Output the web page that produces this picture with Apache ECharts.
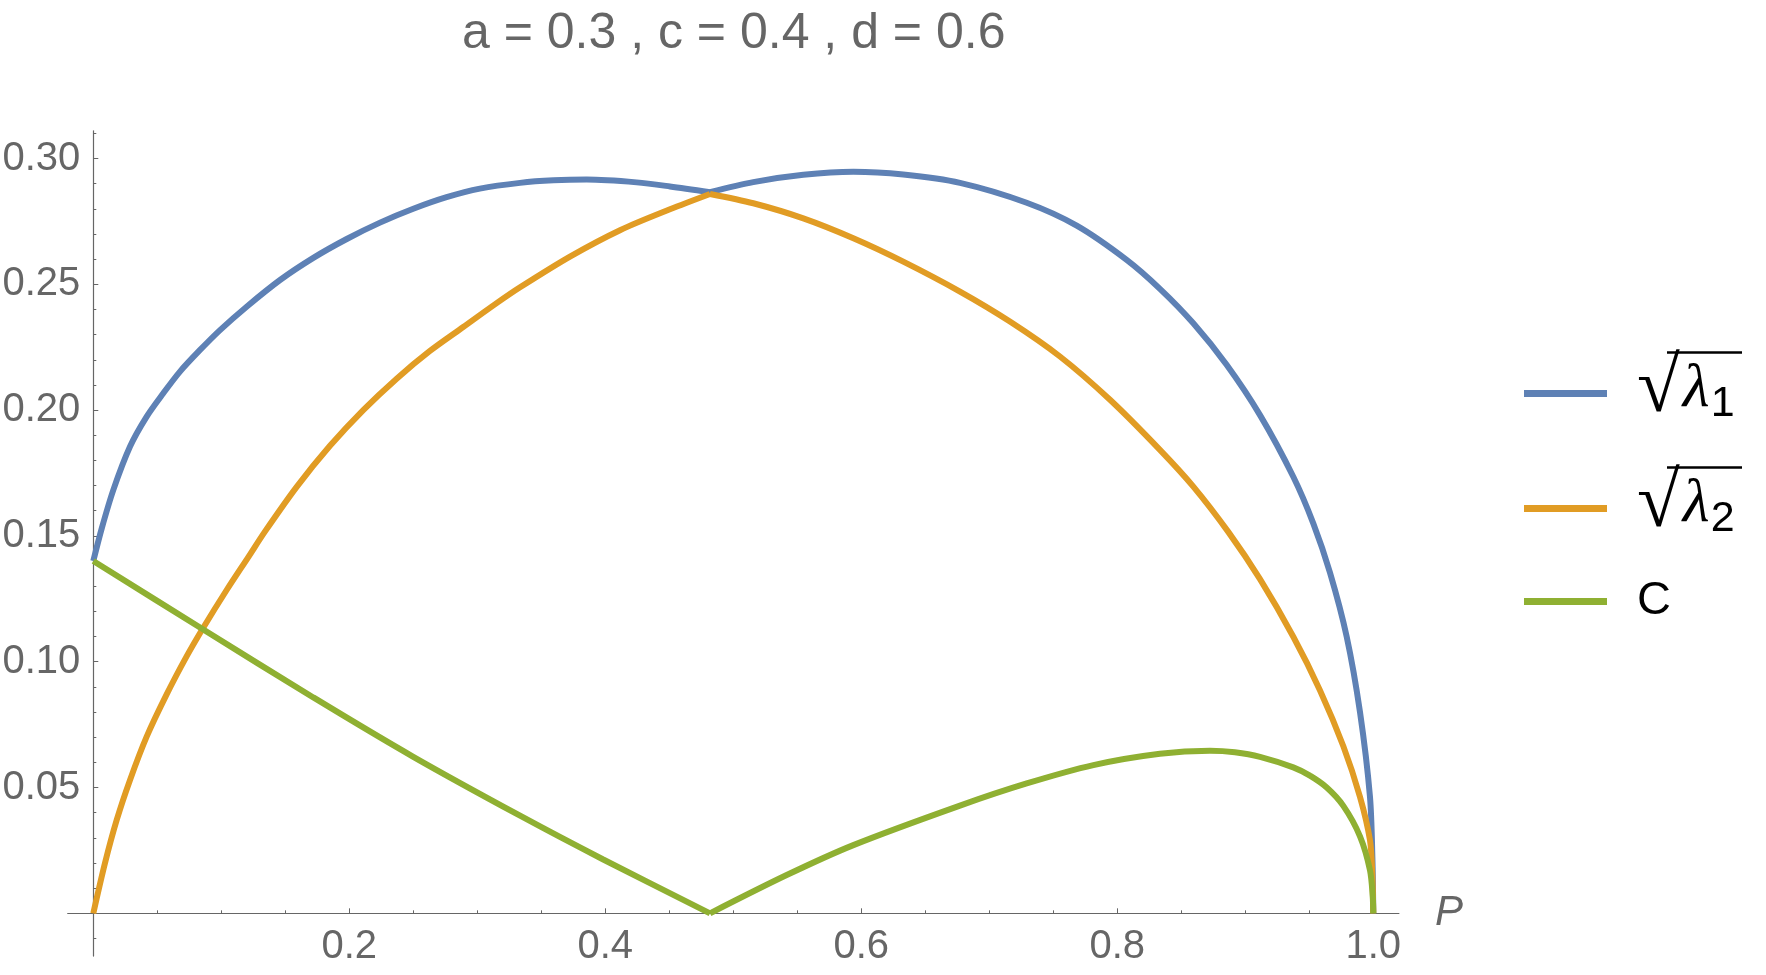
<!DOCTYPE html>
<html>
<head>
<meta charset="utf-8">
<script src="https://cdn.jsdelivr.net/npm/echarts@6/dist/echarts.min.js"></script>
<style>
  html, body { margin: 0; padding: 0; background: #fff; }
  #chart { width: 1766px; height: 975px; }
</style>
</head>
<body>
<div id="chart"></div>
<script>
// values
const titleText = 'a = 0.3 , c = 0.4 , d = 0.6';

// the curves have a corner here (drawn as two pieces so it stays sharp)
const kinkP = 0.4818;

const pL1 = [0, 0.0066, 0.0156, 0.0287, 0.0417, 0.0547, 0.0677, 0.0834, 0.099, 0.1198, 0.1459, 0.1719, 0.198, 0.224, 0.25, 0.276, 0.302, 0.3334, 0.3595, 0.3855, 0.4245, 0.4505, 0.4818,
  0.5156, 0.5547, 0.5938, 0.6328, 0.6771, 0.7292, 0.7683, 0.8073, 0.8333, 0.8594, 0.8854, 0.9115, 0.9375, 0.9531, 0.9661, 0.9792, 0.9896, 0.9974, 0.9993, 1.0];
const vL1 = [0.14, 0.153, 0.1682, 0.1855, 0.1974, 0.2067, 0.2153, 0.2239, 0.2318, 0.2411, 0.2517, 0.2605, 0.268, 0.2745, 0.28, 0.2846, 0.288, 0.2903, 0.2913, 0.2916, 0.2905, 0.2889, 0.2866,
  0.2906, 0.2935, 0.2947, 0.2936, 0.2903, 0.2824, 0.2733, 0.2597, 0.2482, 0.2345, 0.218, 0.198, 0.1735, 0.155, 0.1355, 0.11, 0.08, 0.0463, 0.022, 0];

const pL2 = [0, 0.0091, 0.0183, 0.0287, 0.0417, 0.0573, 0.073, 0.0859, 0.1042, 0.1211, 0.1342, 0.1589, 0.1849, 0.2109, 0.237, 0.263, 0.289, 0.3151, 0.3334, 0.3724, 0.4115, 0.4505, 0.4818,
  0.5156, 0.5547, 0.5938, 0.6328, 0.6771, 0.7161, 0.7552, 0.7943, 0.8333, 0.8594, 0.8867, 0.9115, 0.9375, 0.9583, 0.9766, 0.9896, 0.9974, 0.9992, 1.0];
const vL2 = [0, 0.0199, 0.0371, 0.053, 0.0702, 0.087, 0.1022, 0.1135, 0.1285, 0.1416, 0.1518, 0.1695, 0.1858, 0.2, 0.2125, 0.2235, 0.233, 0.2425, 0.2488, 0.261, 0.2715, 0.2798, 0.2859,
  0.2822, 0.2762, 0.2683, 0.259, 0.2471, 0.2352, 0.2213, 0.2041, 0.1842, 0.1696, 0.1516, 0.1328, 0.1099, 0.0887, 0.0664, 0.0463, 0.0291, 0.016, 0];

const pC = [0, 0.0859, 0.1719, 0.25, 0.3334, 0.3984, 0.4818,
  0.5417, 0.5938, 0.6771, 0.7292, 0.7813, 0.8333, 0.8724, 0.8919, 0.9115, 0.9375, 0.9505, 0.9636, 0.9766, 0.9896, 0.9974, 0.9995, 1.0];
const vC = [0.14, 0.1128, 0.0858, 0.0622, 0.0388, 0.0214, 0,
  0.0152, 0.0271, 0.0428, 0.0516, 0.0589, 0.0634, 0.0646, 0.064, 0.0622, 0.058, 0.0547, 0.05, 0.0427, 0.0306, 0.0172, 0.007, 0];

const xLabels = [0.2, 0.4, 0.6, 0.8, 1.0];
const xMajor = [0, 0.2, 0.4, 0.6, 0.8, 1.0];
const xMinor = [0.05, 0.1, 0.15, 0.25, 0.3, 0.35, 0.45, 0.5, 0.55, 0.65, 0.7, 0.75, 0.85, 0.9, 0.95];
const yLabels = [0.05, 0.1, 0.15, 0.2, 0.25, 0.3];
const yMajor = [0, 0.05, 0.1, 0.15, 0.2, 0.25, 0.3];
const yMinor = [-0.01, 0.01, 0.02, 0.03, 0.04, 0.06, 0.07, 0.08, 0.09, 0.11, 0.12, 0.13, 0.14, 0.16, 0.17, 0.18, 0.19, 0.21, 0.22, 0.23, 0.24, 0.26, 0.27, 0.28, 0.29, 0.31];

const names = ['√λ1', '√λ2', 'C'];
const colors = ['#5E81B5', '#E19C24', '#8FB032'];
const curves = [[pL1, vL1], [pL2, vL2], [pC, vC]];

const pair = (ps, vs) => ps.map((p, i) => [p, vs[i]]);

const chart = echarts.init(document.getElementById('chart'));

const axisGray = '#666666';
const X_MIN = -0.02, X_MAX = 1.02, Y_MIN = -0.017, Y_MAX = 0.311;

// vertical padding (top - bottom) / 2 shifts each glyph against the legend line
const rich = {
  r: { fontFamily: 'Liberation Serif', fontSize: 78, lineHeight: 69, color: '#000', padding: [0, 0, 5, 25] },
  l: { fontFamily: 'Liberation Serif', fontStyle: 'italic', fontSize: 62, lineHeight: 71, color: '#000', padding: [1, 0, 9, 3] },
  s: { fontFamily: 'Liberation Sans', fontSize: 43, lineHeight: 58, color: '#000', padding: [22, 0, 0, 1] },
  c: { fontFamily: 'Liberation Sans', fontSize: 47, lineHeight: 50, color: '#000', padding: [0, 0, 0, 25] }
};

function legendLabel(name) {
  if (name === 'C') return '{c|C}';
  return '{r|√}{l|λ}{s|' + name.slice(-1) + '}';
}

function oneLegend(name, top) {
  return {
    data: [name],
    left: 1524,
    top: top,
    orient: 'vertical',
    padding: 0,
    icon: 'rect',
    itemWidth: 83,
    itemHeight: 7,
    selectedMode: false,
    formatter: legendLabel,
    textStyle: { rich: rich }
  };
}

// each curve is split at the corner into two line series with the same name
const series = [];
curves.forEach(([ps, vs], i) => {
  const pts = pair(ps, vs);
  [pts.filter(d => d[0] <= kinkP), pts.filter(d => d[0] >= kinkP)].forEach(part => {
    series.push({
      name: names[i],
      type: 'line',
      xAxisIndex: 0,
      yAxisIndex: 0,
      symbol: 'none',
      smooth: 0.3,
      color: colors[i],
      lineStyle: { width: 6, color: colors[i] },
      data: part
    });
  });
});

const option = {
  animation: false,
  backgroundColor: '#fff',
  textStyle: { fontFamily: 'Liberation Sans' },
  title: {
    text: titleText,
    left: 457,
    top: 4,
    textStyle: { fontSize: 50, fontWeight: 'normal', color: axisGray, fontFamily: 'Liberation Sans' }
  },
  legend: [
    oneLegend(names[0], 352),
    oneLegend(names[1], 467),
    oneLegend(names[2], 578)
  ],
  grid: { left: 67.7, top: 130.8, width: 1331.2, height: 825.3, containLabel: false, outerBoundsMode: 'none' },
  xAxis: [
    {
      type: 'value', min: X_MIN, max: X_MAX, position: 'bottom',
      name: 'P', nameLocation: 'end', nameGap: 36,
      nameTextStyle: { fontStyle: 'italic', fontSize: 42, color: axisGray, fontFamily: 'Liberation Sans', verticalAlign: 'middle' },
      axisLine: { onZero: true, lineStyle: { color: axisGray, width: 1.2 } },
      axisTick: { inside: true, length: 5, customValues: xMajor, lineStyle: { color: axisGray } },
      // labels stay at the grid edge, so pull them up to the zero line
      axisLabel: { customValues: xLabels, margin: -29, fontSize: 40, color: axisGray, formatter: v => v.toFixed(1) },
      splitLine: { show: false }
    },
    {
      type: 'value', min: X_MIN, max: X_MAX, position: 'bottom',
      axisLine: { show: false, onZero: true },
      axisTick: { inside: true, length: 3, customValues: xMinor, lineStyle: { color: axisGray } },
      axisLabel: { show: false },
      splitLine: { show: false }
    }
  ],
  yAxis: [
    {
      type: 'value', min: Y_MIN, max: Y_MAX, position: 'left',
      axisLine: { show: true, onZero: true, lineStyle: { color: axisGray, width: 1.2 } },
      axisTick: { show: true, inside: true, length: 5, customValues: yMajor, lineStyle: { color: axisGray } },
      axisLabel: { customValues: yLabels, margin: -12.6, fontSize: 40, color: axisGray, formatter: v => v.toFixed(2) },
      splitLine: { show: false }
    },
    {
      type: 'value', min: Y_MIN, max: Y_MAX, position: 'left',
      axisLine: { show: false, onZero: true },
      axisTick: { show: true, inside: true, length: 3, customValues: yMinor, lineStyle: { color: axisGray } },
      axisLabel: { show: false },
      splitLine: { show: false }
    }
  ],
  // overbars of the square roots in the legend
  graphic: [
    { type: 'line', shape: { x1: 1667, y1: 352.5, x2: 1742, y2: 352.5 }, style: { stroke: '#000', lineWidth: 2.5 } },
    { type: 'line', shape: { x1: 1667, y1: 467.5, x2: 1742, y2: 467.5 }, style: { stroke: '#000', lineWidth: 2.5 } }
  ],
  series: series
};

chart.setOption(option);
</script>
</body>
</html>
